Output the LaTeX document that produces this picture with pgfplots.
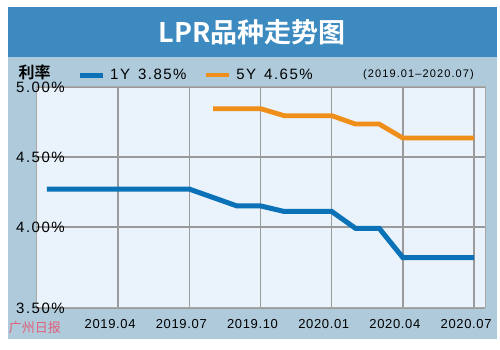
\documentclass[border=0pt]{standalone}
\usepackage{fontspec}
\setmainfont{Liberation Sans}
\newfontfamily\cjk{Noto Sans CJK SC}[BoldFont={Noto Sans CJK SC Bold}]
\newfontfamily\tickf{Liberation Sans}[LetterSpace=5]
\newfontfamily\labf{Liberation Sans}[LetterSpace=10]
\newfontfamily\smallf{Liberation Sans}[LetterSpace=10]
\usepackage{pgfplots}
\pgfplotsset{compat=1.18}
\definecolor{band}{HTML}{3D8AC0}
\definecolor{panel}{HTML}{AECADB}
\definecolor{plotbg}{HTML}{EAF3FB}
\definecolor{gridc}{HTML}{9A9A9A}
\definecolor{oneY}{HTML}{0B72B8}
\definecolor{fiveY}{HTML}{EF8F1A}
\definecolor{wm}{HTML}{E0607A}
\begin{document}
\begin{tikzpicture}[x=1pt,y=1pt]
\path[use as bounding box] (0,0) rectangle (500,350);
\fill[white] (0,0) rectangle (500,350);
\fill[panel] (8,11) rectangle (497,293);
\fill[band] (8,293) rectangle (497,343);
\node[text=white, font=\cjk\bfseries\fontsize{27}{27}\selectfont] at (252,318) {LPR品种走势图};
\node[font=\cjk\bfseries\fontsize{16}{16}\selectfont] at (34.5,277.5) {利率};
\node[font=\smallf\fontsize{11}{11}\selectfont] at (418.5,275) {(2019.01–2020.07)};
\node[text=wm, font=\cjk\fontsize{13}{13}\selectfont] at (35,22) {广州日报};
\begin{axis}[
  at={(36pt,42pt)}, anchor=south west,
  scale only axis, width=449pt, height=221pt,
  xmin=-0.46, xmax=18.46, ymin=3.42, ymax=5,
  xtick={3,6,9,12,15,18},
  xticklabels={2019.04,2019.07,2019.10,2020.01,2020.04,2020.07},
  ytick={3.42,4,4.5,5},
  yticklabels={3.50\%,4.00\%,4.50\%,5.00\%},
  grid=major,
  major grid style={gridc, line width=1.5pt},
  axis line style={gridc!85, line width=1pt},
  major tick length=0pt,
  axis background/.style={fill=plotbg},
  xticklabel style={font=\tickf\fontsize{13}{13}\selectfont, anchor=north, inner sep=0pt, yshift=-11pt, xshift=-8pt},
  yticklabel style={font=\labf\fontsize{15}{15}\selectfont, anchor=west, inner sep=0pt, xshift=-20pt},
  legend style={at={(axis description cs:0.0913,1.054)}, anchor=west, draw=none, fill=none,
    font=\labf\fontsize{15}{15}\selectfont, inner sep=0pt, nodes={inner sep=0pt},
    /tikz/every odd column/.append style={column sep=5pt},
    /tikz/every even column/.append style={column sep=17pt}},
  legend columns=-1,
  legend image code/.code={\draw[#1] (0pt,0pt) -- (23pt,0pt);},
]
\addplot[oneY, line width=5pt] coordinates {
 (0,4.27) (6,4.27) (8,4.15) (9,4.15) (10,4.11) (12,4.11) (13,3.99) (14,3.99) (15,3.78) (18,3.78)};
\addlegendentry{1Y\hspace{8pt}3.85\%}
\addplot[fiveY, line width=4.8pt] coordinates {
 (7,4.845) (9,4.845) (10,4.795) (12,4.795) (13,4.735) (14,4.735) (15,4.635) (18,4.635)};
\addlegendentry{5Y\hspace{8pt}4.65\%}
\end{axis}
\end{tikzpicture}
\end{document}
